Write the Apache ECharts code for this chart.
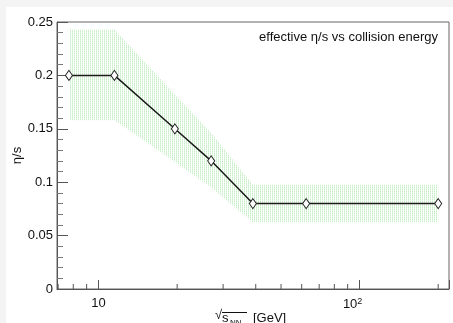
<!DOCTYPE html>
<html>
<head>
<meta charset="utf-8">
<script src="https://cdn.jsdelivr.net/npm/echarts@6/dist/echarts.min.js"></script>
<style>
  html, body { margin: 0; padding: 0; background: #f4f4f4; }
  #main { position: absolute; left: 6px; top: 7px; width: 447px; height: 316px; background: #fff; }
</style>
</head>
<body>
<div id="main"></div>
<script>
// collision energies sqrt(s_NN) in GeV and effective eta/s
let energy = [7.7, 11.5, 19.6, 27, 39, 62.4, 200];
let etaS = [0.2, 0.2, 0.15, 0.12, 0.08, 0.08, 0.08];
// uncertainty band
let bandLow = [0.158, 0.158, 0.119, 0.095, 0.0625, 0.0625, 0.0625];
let bandHigh = [0.243, 0.243, 0.182, 0.146, 0.0975, 0.0975, 0.0975];
let xMinorTicks = [7, 8, 9, 20, 30, 40, 50, 60, 70, 80, 90, 200];

const font = 'Liberation Sans, Arial, Helvetica, sans-serif';

// dotted green fill like the ROOT pattern
function dotPattern(){
    let c = document.createElement('canvas');
    c.width = 2; c.height = 2;
    let ctx = c.getContext('2d');
    ctx.fillStyle = '#ffffff';
    ctx.fillRect(0, 0, 2, 2);
    ctx.fillStyle = '#c6eec6';
    ctx.fillRect(0, 0, 1, 1);
    ctx.fillStyle = '#dff6df';
    ctx.fillRect(0, 1, 1, 1);
    return c;
}

function isPow10(v){
    let l = Math.log10(v);
    return Math.abs(l - Math.round(l)) < 1e-6;
}

let lineData = energy.map((e, i) => [e, etaS[i]]);
let bandData = energy.map((e, i) => [e, bandLow[i], bandHigh[i]]);

let option = {
    animation: false,
    title: {
        text: 'effective η/s vs collision energy',
        right: 15, top: 24, padding: 0,
        textStyle: {fontFamily: font, fontSize: 13, fontWeight: 'normal', color: '#111'}
    },
    grid: {
        left: 51, top: 15, right: 4, bottom: 34,
        containLabel: false, outerBoundsMode: 'none',
        show: true, borderColor: '#666', borderWidth: 1
    },
    xAxis: {
        type: 'log', logBase: 10, min: 6.93, max: 220,
        axisLine: {lineStyle: {color: '#555'}},
        axisTick: {inside: true, length: 9, lineStyle: {color: '#555'}},
        splitLine: {show: false},
        axisLabel: {
            margin: 8, fontFamily: font, fontSize: 13, color: '#111',
            formatter: function(v){
                if (!isPow10(v)) return '';
                let p = Math.round(Math.log10(v));
                return p === 1 ? '10' : '{b|10}{sup|' + p + '}';
            },
            rich: {
                b: {fontFamily: font, fontSize: 13, color: '#111'},
                sup: {fontFamily: font, fontSize: 9, color: '#111', verticalAlign: 'top', padding: [0, 14, 6, 0]}
            }
        }
    },
    yAxis: {
        type: 'value', min: 0, max: 0.25, interval: 0.05,
        name: 'η/s', nameLocation: 'middle', nameGap: 33, nameRotate: 90,
        nameMoveOverlap: false,
        nameTextStyle: {fontFamily: font, fontSize: 13, color: '#111'},
        axisLine: {show: true, lineStyle: {color: '#555'}},
        axisTick: {inside: true, length: 11, lineStyle: {color: '#555'}},
        minorTick: {show: true, splitNumber: 5, length: 6, lineStyle: {color: '#777'}},
        splitLine: {show: false},
        axisLabel: {margin: 4, fontFamily: font, fontSize: 13, color: '#111'}
    },
    graphic: [
        {type: 'text', left: 209, top: 302, style: {text: '√', font: '13px ' + font, fill: '#111'}},
        {type: 'line', shape: {x1: 216, y1: 305.5, x2: 241, y2: 305.5}, style: {stroke: '#111', lineWidth: 1}},
        {type: 'text', left: 216, top: 305, style: {text: 's', font: '13px ' + font, fill: '#111'}},
        {type: 'text', left: 224, top: 312, style: {text: 'NN', font: '8px ' + font, fill: '#111'}},
        {type: 'text', left: 247, top: 305, style: {text: '[GeV]', font: '13px ' + font, fill: '#111'}}
    ],
    series: [
        {
            // band drawn as one polygon from all points
            type: 'custom', silent: true, z: 1,
            data: bandData,
            renderItem: function(params, api){
                if (params.dataIndex !== 0) return;
                let up = [], down = [];
                for (let d of bandData){
                    up.push(api.coord([d[0], d[2]]));
                    down.push(api.coord([d[0], d[1]]));
                }
                return {
                    type: 'polygon',
                    shape: {points: up.concat(down.reverse())},
                    style: {fill: {image: dotPattern(), repeat: 'repeat'}}
                };
            }
        },
        {
            type: 'line', data: lineData, z: 3,
            symbol: 'diamond', symbolSize: [7, 10],
            lineStyle: {color: '#1a1a1a', width: 1.5},
            itemStyle: {color: '#fff', borderColor: '#222', borderWidth: 1}
        },
        {
            type: 'custom', silent: true, clip: false,
            data: xMinorTicks.map(v => [v, 0]),
            renderItem: function(params, api){
                let p = api.coord([api.value(0), 0]);
                return {
                    type: 'line',
                    shape: {x1: p[0], y1: p[1], x2: p[0], y2: p[1] - 5},
                    style: {stroke: '#555', lineWidth: 1}
                };
            }
        }
    ]
};

let chart = echarts.init(document.getElementById('main'));
chart.setOption(option);
</script>
</body>
</html>
